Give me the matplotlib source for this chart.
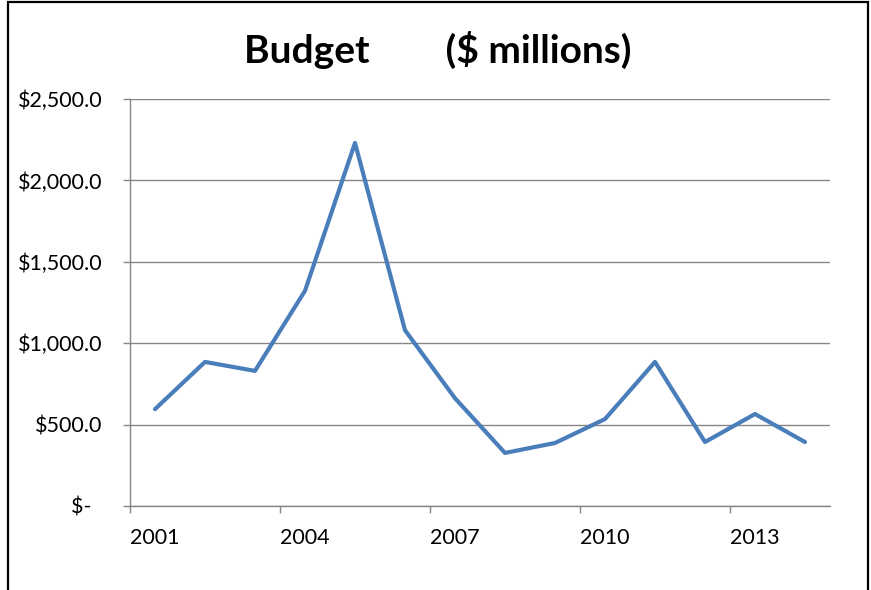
import matplotlib.pyplot as plt
import numpy as np
from matplotlib.patches import Rectangle
from matplotlib.ticker import FixedLocator, FuncFormatter

plt.rcParams['font.family'] = ['Lato', 'DejaVu Sans']

years = [2001, 2002, 2003, 2004, 2005, 2006, 2007, 2008, 2009, 2010, 2011, 2012, 2013, 2014]
budget = [595, 885, 830, 1322, 2230, 1080, 662, 326, 387, 534, 885, 393, 565, 393]
label_years = [2001, 2004, 2007, 2010, 2013]

fig = plt.figure(figsize=(8.71, 5.9), dpi=100)
ax = fig.add_axes([130/871, 1-506/590, 700/871, 407/590])

x = np.arange(len(years)) + 0.5
ax.plot(x, budget, color='#4A7EBB', lw=3.0, solid_joinstyle='round', solid_capstyle='round')

ax.set_xlim(0, len(years))
ax.set_ylim(0, 2500)
ax.set_yticks(np.arange(0, 2501, 500))
ax.yaxis.set_major_formatter(FuncFormatter(lambda v, p: '$-  ' if v == 0 else f'${v:,.1f}'))
ax.grid(axis='y', color='#868686', lw=1.0)
ax.set_axisbelow(True)

# category axis: tick marks between categories, labels on categories
ax.xaxis.set_major_locator(FixedLocator([0, 3, 6, 9, 12]))
ax.xaxis.set_major_formatter(FuncFormatter(lambda v, p: ''))
lab_pos = [years.index(y) + 0.5 for y in label_years]
ax.xaxis.set_minor_locator(FixedLocator(lab_pos))
ax.xaxis.set_minor_formatter(FuncFormatter(lambda v, p: str(years[int(v)])))
ax.tick_params(axis='x', which='major', length=5, width=1, color='#868686', direction='out')
ax.tick_params(axis='x', which='minor', length=0, pad=16, labelsize=15.5)
ax.tick_params(axis='y', length=5, width=1, color='#868686', pad=15, labelsize=15.5)

for s in ['top', 'right']:
    ax.spines[s].set_visible(False)
for s in ['left', 'bottom']:
    ax.spines[s].set_color('#868686')
    ax.spines[s].set_linewidth(1.0)

fig.text(0.503, 1-50/590, 'Budget        ($ millions)', ha='center', va='center',
         fontsize=28, fontweight='bold')

fig.add_artist(Rectangle((8/871, -0.05), 860/871, 1.05-2/590, transform=fig.transFigure,
                         fill=False, edgecolor='black', lw=1.6))

fig.savefig('out.png', dpi=100)
